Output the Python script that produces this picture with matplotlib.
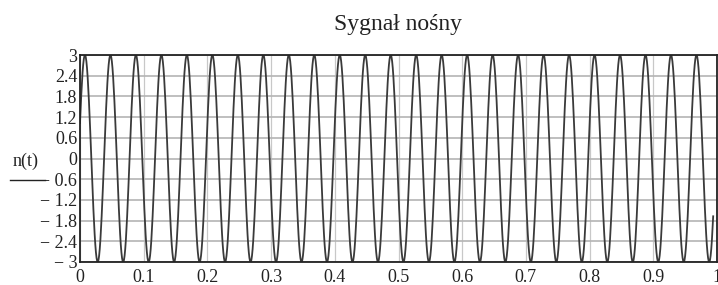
import numpy as np
import matplotlib.pyplot as plt
from matplotlib.lines import Line2D

# Carrier signal parameters
amplitude = 3.0      # peak value
carrier_freq = 25.0  # cycles per unit of t (24 full periods visible)
phase = 0.35         # rad, first peak near t = 0.008
t_step = 0.001
t_end = 0.994

x_ticks = [0, 0.1, 0.2, 0.3, 0.4, 0.5, 0.6, 0.7, 0.8, 0.9, 1.0]
x_tick_labels = ["0", "0.1", "0.2", "0.3", "0.4", "0.5", "0.6", "0.7", "0.8", "0.9", "1"]
y_ticks = [3, 2.4, 1.8, 1.2, 0.6, 0, -0.6, -1.2, -1.8, -2.4, -3]
y_tick_labels = ["3", "2.4", "1.8", "1.2", "0.6", "0", "\u2212 0.6", "\u2212 1.2",
                 "\u2212 1.8", "\u2212 2.4", "\u2212 3"]

t = np.arange(0, t_end + t_step / 2, t_step)
n = amplitude * np.sin(2 * np.pi * carrier_freq * t + phase)

plt.rcParams['font.family'] = ['Liberation Serif', 'DejaVu Serif']

fig = plt.figure(figsize=(7.18, 2.85), dpi=100)
ax = fig.add_axes([80 / 718, 23 / 285, 637 / 718, 207 / 285])

ax.plot(t, n, color='#3a3a3a', linewidth=1.3)

ax.set_xlim(0, t_end)
ax.set_ylim(-3, 3)
ax.set_xticks(x_ticks)
ax.set_xticklabels(x_tick_labels)
ax.set_yticks(y_ticks)
ax.set_yticklabels(y_tick_labels)
ax.tick_params(length=0, labelsize=13, colors='#222222')
ax.tick_params(axis='x', pad=5)
ax.tick_params(axis='y', pad=2)

ax.grid(True, axis='y', color='#b4b4b4', linewidth=1.2)
ax.grid(True, axis='x', color='#c8c8c8', linewidth=0.9)
ax.set_axisbelow(True)
for s in ax.spines.values():
    s.set_color('#222222')
    s.set_linewidth(1.3)

ax.set_title("Sygnał nośny", fontsize=17, color='#222222', pad=18)

# Mathcad-style axis label with a bar under it
fig.text(26 / 718, 1 - 161 / 285, "n(t)", fontsize=13, color='#222222',
         ha='center', va='center')
fig.add_artist(Line2D([10 / 718, 45 / 718], [1 - 180 / 285, 1 - 180 / 285],
                      color='#222222', linewidth=1.0))

fig.savefig("out.png", dpi=100)
